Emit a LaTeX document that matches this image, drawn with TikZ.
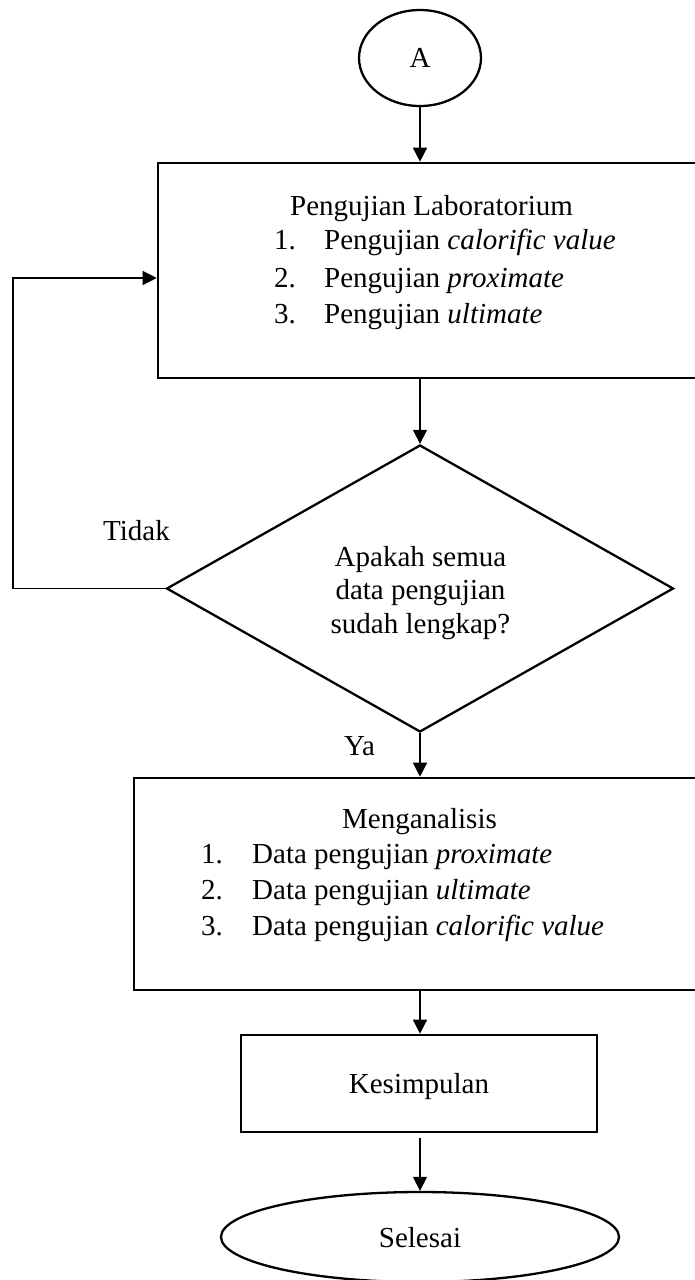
\documentclass[tikz,border=0pt]{standalone}
\usepackage{fontspec}
\setmainfont{Liberation Serif}
\usetikzlibrary{shapes.geometric,arrows.meta}
\begin{document}
\begin{tikzpicture}[x=1pt,y=-1pt,
  boxstyle/.style={draw,line width=2.6pt,rectangle,inner sep=0pt},
  shapeline/.style={draw,line width=2.3pt,inner sep=0pt},
  conn/.style={line width=1.3pt,-{Triangle[length=14pt,width=14pt]}},
  txt/.style={font=\fontsize{29}{37}\selectfont,inner sep=0pt},
  lbl/.style={txt,anchor=base west}]
\useasboundingbox (0,0) rectangle (695,1280);
\clip (0,0) rectangle (695,1280);

% nodes
\node[shapeline,ellipse,minimum width=122pt,minimum height=96pt,txt,text depth=0pt] (A) at (420,58) {A};
\node[boxstyle,minimum width=550pt,minimum height=215pt] (box1) at (433,270.5) {};
\node[shapeline,diamond,minimum width=507pt,minimum height=287pt] (dec) at (420,588.5) {};
\node[boxstyle,minimum width=572pt,minimum height=212pt] (box2) at (420,884) {};
\node[boxstyle,minimum width=356pt,minimum height=97pt,txt,text depth=0pt] (box3) at (419,1083.5) {Kesimpulan};
\node[shapeline,ellipse,minimum width=398pt,minimum height=90pt,txt,text depth=0pt] (end) at (420,1237) {Selesai};

% texts of box 1
\node[lbl] (t1) at (290,215) {Pengujian Laboratorium};
\node[lbl] (n11) at (274,249) {1.};
\node[lbl] (i11) at (324,249) {Pengujian \textit{calorific value}};
\node[lbl] (n12) at (274,287) {2.};
\node[lbl] (i12) at (324,287) {Pengujian \textit{proximate}};
\node[lbl] (n13) at (274,323) {3.};
\node[lbl] (i13) at (324,323) {Pengujian \textit{ultimate}};

% text of decision
\node[txt,align=center,font=\fontsize{29}{33.5}\selectfont] (dt) at (420.5,593) {Apakah semua\\data pengujian\\sudah lengkap?};

% texts of box 2
\node[lbl] (t2) at (342,828) {Menganalisis};
\node[lbl] (n21) at (201,863) {1.};
\node[lbl] (i21) at (252,863) {Data pengujian \textit{proximate}};
\node[lbl] (n22) at (201,899) {2.};
\node[lbl] (i22) at (252,899) {Data pengujian \textit{ultimate}};
\node[lbl] (n23) at (201,935) {3.};
\node[lbl] (i23) at (252,935) {Data pengujian \textit{calorific value}};

% labels
\node[lbl] (tidak) at (103,540) {Tidak};
\node[lbl] (ya) at (344,755) {Ya};

% connectors
\draw[conn] (A.south) -- (A.south |- box1.north);
\draw[conn] (dec.north |- box1.south) -- (dec.north);
\draw[conn] (dec.south) -- (dec.south |- box2.north);
\draw[conn] (dec.south |- box2.south) -- (dec.south |- box3.north);
\draw[conn,shorten <=5pt] (end.north |- box3.south) -- (end.north);
\coordinate (lp) at (13,278);
\draw[conn] (dec.west) -| (lp) -- (lp -| box1.west);
\end{tikzpicture}
\end{document}
